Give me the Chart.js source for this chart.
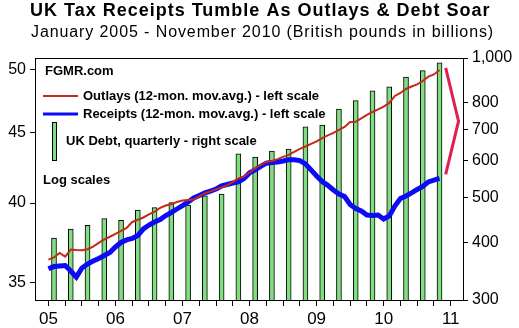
<!DOCTYPE html>
<html>
<head>
<meta charset="utf-8">
<title>UK Tax Receipts Tumble As Outlays & Debt Soar</title>
<script src="https://cdn.jsdelivr.net/npm/chart.js@4.4.1/dist/chart.umd.min.js"></script>
<style>
  html, body { margin: 0; padding: 0; background: #fff; }
  #wrap { width: 519px; height: 328px; position: relative; }
</style>
</head>
<body>
<div id="wrap"><canvas id="chart"></canvas></div>
<script>
// monthly 12-month moving averages, Jan 2005 .. Nov 2010 (GBP bn)
const outlays = [
  36.38, 36.51, 36.79, 36.56, 37.00, 36.97, 36.96, 37.02, 37.18, 37.41, 37.64, 37.80,
  37.98, 38.17, 38.36, 38.75, 38.89, 39.04, 39.24, 39.42, 39.67, 39.83, 39.92, 40.07,
  40.17, 40.20, 40.23, 40.44, 40.65, 40.79, 40.92, 41.06, 41.20, 41.44, 41.68, 41.82,
  42.10, 42.40, 42.64, 42.85, 42.92, 43.05, 43.21, 43.36, 43.58, 43.80, 43.97, 44.17,
  44.35, 44.59, 44.80, 44.99, 45.21, 45.44, 45.82, 45.84, 46.09, 46.36, 46.59, 46.79,
  47.01, 47.30, 47.86, 48.10, 48.42, 48.62, 48.79, 49.07, 49.43, 49.61, 49.99
];
const receipts = [
  35.83, 35.96, 35.99, 36.02, 35.69, 35.33, 35.87, 36.11, 36.29, 36.45, 36.63, 36.82,
  37.16, 37.44, 37.60, 37.69, 37.88, 38.30, 38.55, 38.75, 38.91, 39.17, 39.37, 39.60,
  39.83, 40.07, 40.34, 40.51, 40.68, 40.81, 40.95, 41.16, 41.26, 41.36, 41.44, 41.68,
  42.07, 42.28, 42.53, 42.76, 42.81, 42.85, 42.92, 43.00, 43.01, 42.95, 42.71, 42.28,
  41.85, 41.47, 41.20, 40.88, 40.61, 40.44, 39.90, 39.63, 39.47, 39.20, 39.17, 39.20,
  38.94, 39.14, 39.80, 40.30, 40.47, 40.68, 40.92, 41.12, 41.44, 41.57, 41.68
];
// quarterly UK debt, 2005 Q1 .. 2010 Q4 (GBP bn)
const ukDebt = [
  408, 427, 435, 450, 446, 469, 475, 487, 481, 504, 508, 621,
  611, 629, 636, 710, 716, 776, 809, 849, 866, 910, 939, 976
];
const yearLabels = ['05', '06', '07', '08', '09', '10', '11'];
const leftTicks = [35, 40, 45, 50];
const rightTicks = [300, 400, 500, 600, 700, 800, 1000];

const FONT = '"Liberation Sans", Arial, sans-serif';
const RED = '#c42a18';
const BLUE = '#0c0cf4';
const GREEN = '#80de80';

const withCommas = v => String(v).replace(/\B(?=(\d{3})+(?!\d))/g, ',');

// titles, in-plot legend, top frame line and the red bracket
const decor = {
  id: 'decor',
  afterDatasetsDraw(chart) {
    const ctx = chart.ctx;
    const a = chart.chartArea;
    const xs = chart.scales.x;
    const yl = chart.scales.yL;
    ctx.save();

    // frame top
    ctx.strokeStyle = '#000';
    ctx.lineWidth = 1;
    ctx.beginPath();
    ctx.moveTo(a.left, a.top + 0.5);
    ctx.lineTo(a.right, a.top + 0.5);
    ctx.stroke();

    // bracket joining the ends of the two lines
    const last = outlays.length - 1;
    const xb = xs.getPixelForValue(last + 1.1);
    const xt = xs.getPixelForValue(last + 3.4);
    const yTop = yl.getPixelForValue(outlays[last]) - 2;
    const yBot = yl.getPixelForValue(receipts[last]) - 4;
    ctx.strokeStyle = '#e0204a';
    ctx.lineWidth = 3;
    ctx.beginPath();
    ctx.moveTo(xb, yTop);
    ctx.lineTo(xt, (yTop + yBot) / 2);
    ctx.lineTo(xb, yBot);
    ctx.stroke();

    // titles
    ctx.fillStyle = '#000';
    ctx.textAlign = 'left';
    ctx.textBaseline = 'alphabetic';
    ctx.font = 'bold 18px ' + FONT;
    ctx.letterSpacing = '1px';
    ctx.fillText('UK Tax Receipts Tumble As Outlays & Debt Soar', 30, 16);
    ctx.font = '16px ' + FONT;
    ctx.letterSpacing = '0.9px';
    ctx.fillText('January 2005 - November 2010 (British pounds in billions)', 31, 37);
    ctx.letterSpacing = '0px';

    // legend inside the plot
    const lx = a.left;
    ctx.textBaseline = 'middle';
    ctx.font = 'bold 13px ' + FONT;
    ctx.fillText('FGMR.com', lx + 10, 71);

    ctx.lineWidth = 2;
    ctx.strokeStyle = RED;
    ctx.beginPath();
    ctx.moveTo(lx + 8, 96);
    ctx.lineTo(lx + 43, 96);
    ctx.stroke();
    ctx.fillText('Outlays (12-mon. mov.avg.) - left scale', lx + 48, 96);

    ctx.lineWidth = 3;
    ctx.strokeStyle = BLUE;
    ctx.beginPath();
    ctx.moveTo(lx + 8, 114);
    ctx.lineTo(lx + 43, 114);
    ctx.stroke();
    ctx.fillText('Receipts (12-mon. mov.avg.) - left scale', lx + 48, 114);

    ctx.fillStyle = GREEN;
    ctx.fillRect(lx + 18, 123, 3, 37);
    ctx.strokeStyle = '#000';
    ctx.lineWidth = 1;
    ctx.strokeRect(lx + 17.5, 122.5, 4, 38);
    ctx.fillStyle = '#000';
    ctx.fillText('UK Debt, quarterly - right scale', lx + 31, 141);

    ctx.fillText('Log scales', lx + 8, 180);
    ctx.restore();
  }
};

const ctx = document.getElementById('chart').getContext('2d');
new Chart(ctx, {
  type: 'bar',
  data: {
    datasets: [{
      type: 'line',
      label: 'Outlays (12-mon. mov.avg.)',
      data: outlays.map((v, i) => ({ x: i, y: v })),
      yAxisID: 'yL',
      borderColor: RED,
      borderWidth: 2,
      pointRadius: 0,
      tension: 0,
      order: 0
    }, {
      type: 'line',
      label: 'Receipts (12-mon. mov.avg.)',
      data: receipts.map((v, i) => ({ x: i, y: v })),
      yAxisID: 'yL',
      borderColor: BLUE,
      borderWidth: 5,
      pointRadius: 0,
      tension: 0,
      order: 1
    }, {
      type: 'bar',
      label: 'UK Debt, quarterly',
      // each bar sits on the second month of its quarter
      data: ukDebt.map((v, i) => ({ x: i * 3 + 1, y: v })),
      yAxisID: 'yR',
      backgroundColor: GREEN,
      borderColor: '#000',
      borderWidth: 1,
      barThickness: 5,
      order: 2
    }]
  },
  options: {
    responsive: true,
    maintainAspectRatio: false,
    animation: false,
    layout: { padding: { top: 58, left: 0, right: 0, bottom: 0 } },
    plugins: {
      legend: { display: false },
      tooltip: { enabled: false },
      title: { display: false }
    },
    scales: {
      x: {
        type: 'linear',
        min: -2.4,
        max: 74.2,
        offset: false,
        afterBuildTicks: s => {
          s.ticks = [];
          for (let m = 0; m <= 72; m += 3) s.ticks.push({ value: m });
        },
        afterFit: s => { s.height = 28; },
        grid: { offset: false, drawOnChartArea: false, tickLength: 6, tickColor: '#000' },
        border: { color: '#000', width: 1 },
        ticks: {
          autoSkip: false,
          maxRotation: 0,
          padding: 3,
          color: '#000',
          font: { family: FONT, size: 17 },
          callback: v => (v % 12 === 0 ? yearLabels[v / 12] : '')
        }
      },
      yL: {
        type: 'logarithmic',
        position: 'left',
        min: 34,
        max: 51,
        afterBuildTicks: s => { s.ticks = leftTicks.map(v => ({ value: v })); },
        afterFit: s => { s.width = 35; },
        grid: { drawOnChartArea: false, tickLength: 5, tickColor: '#000' },
        border: { color: '#000', width: 1 },
        ticks: {
          padding: 4,
          color: '#000',
          font: { family: FONT, size: 16 },
          callback: v => String(v)
        }
      },
      yR: {
        type: 'logarithmic',
        position: 'right',
        min: 300,
        max: 1000,
        afterBuildTicks: s => { s.ticks = rightTicks.map(v => ({ value: v })); },
        afterFit: s => { s.width = 56; },
        grid: { drawOnChartArea: false, tickLength: 5, tickColor: '#000' },
        border: { color: '#000', width: 1 },
        ticks: {
          padding: 4,
          color: '#000',
          font: { family: FONT, size: 16 },
          callback: v => withCommas(v)
        }
      }
    }
  },
  plugins: [decor]
});
</script>
</body>
</html>
